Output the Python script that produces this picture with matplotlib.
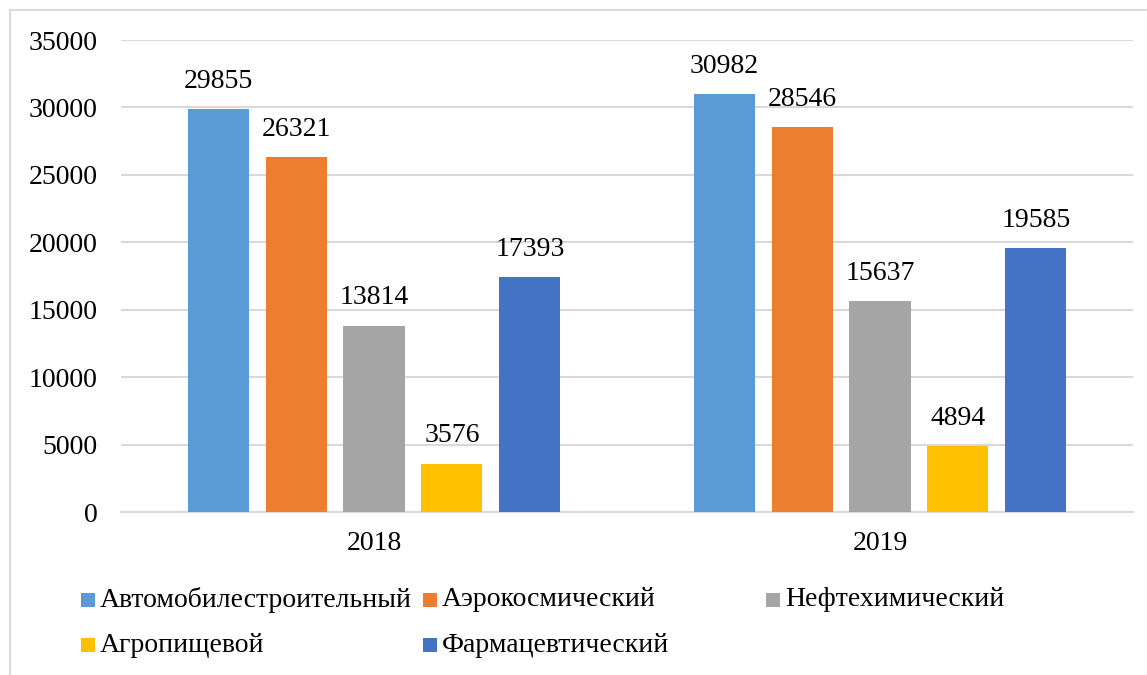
import matplotlib
matplotlib.use("Agg")
import matplotlib.pyplot as plt
from matplotlib.patches import Rectangle
from matplotlib import font_manager
from matplotlib.font_manager import FontProperties
import matplotlib.transforms as mtransforms
import numpy as np

years = ["2018", "2019"]
series_names = ["Автомобилестроительный", "Аэрокосмический", "Нефтехимический",
                "Агропищевой", "Фармацевтический"]
auto = [29855, 30982]
aero = [26321, 28546]
neft = [13814, 15637]
agro = [3576, 4894]
farm = [17393, 19585]
series_values = [auto, aero, neft, agro, farm]
colors = ["#5B9BD5", "#ED7D31", "#A5A5A5", "#FFC000", "#4472C4"]
yticks = [0, 5000, 10000, 15000, 20000, 25000, 30000, 35000]

try:
    serif_path = font_manager.findfont("Liberation Serif", fallback_to_default=False)
except Exception:
    serif_path = font_manager.findfont("DejaVu Serif")
FP = FontProperties(fname=serif_path, size=20)

W, H = 1147, 675
fig = plt.figure(figsize=(W / 100, H / 100), dpi=100)

fig.add_artist(Rectangle((10 / W, -0.01), (W - 9) / W, (H - 10) / H + 0.01,
                         transform=fig.transFigure, fill=False,
                         edgecolor="#D9D9D9", linewidth=1.5))

ax = fig.add_axes([121 / W, (H - 512) / H, (1133 - 121) / W, (512 - 40) / H])
x = np.arange(len(years))
step = 0.154
width = 0.1206
offset = mtransforms.ScaledTranslation(0, 11 / 72, fig.dpi_scale_trans)
for i, (vals, c) in enumerate(zip(series_values, colors)):
    pos = x + (i - 2) * step
    ax.bar(pos, vals, width=width, color=c, zorder=3)
    for p, v in zip(pos, vals):
        ax.text(p, v, str(v), ha="center", va="bottom", fontproperties=FP,
                color="#000000", transform=ax.transData + offset)

ax.set_xlim(-0.5, 1.5)
ax.set_ylim(0, 35000)
ax.set_yticks(yticks)
ax.set_yticklabels([str(t) for t in yticks], fontproperties=FP)
ax.set_xticks(x)
ax.set_xticklabels(years, fontproperties=FP)
ax.tick_params(axis="y", length=0, pad=17)
ax.tick_params(axis="x", length=0, pad=14)
ax.grid(axis="y", color="#D9D9D9", linewidth=1.5, zorder=0)
for s in ["top", "right", "left"]:
    ax.spines[s].set_visible(False)
ax.spines["bottom"].set_color("#D9D9D9")
ax.spines["bottom"].set_linewidth(1.5)

leg_pos = [(81, 600), (423, 600), (766, 600), (81, 645), (423, 645)]
for (lx, ly), name, c in zip(leg_pos, series_names, colors):
    fig.add_artist(Rectangle((lx / W, (H - ly - 7) / H), 14 / W, 14 / H,
                             transform=fig.transFigure, facecolor=c, edgecolor="none"))
    fig.text((lx + 19) / W, (H - ly) / H, name, va="center", ha="left",
             color="#000000", fontproperties=FP)

fig.savefig("out.png", dpi=100)
